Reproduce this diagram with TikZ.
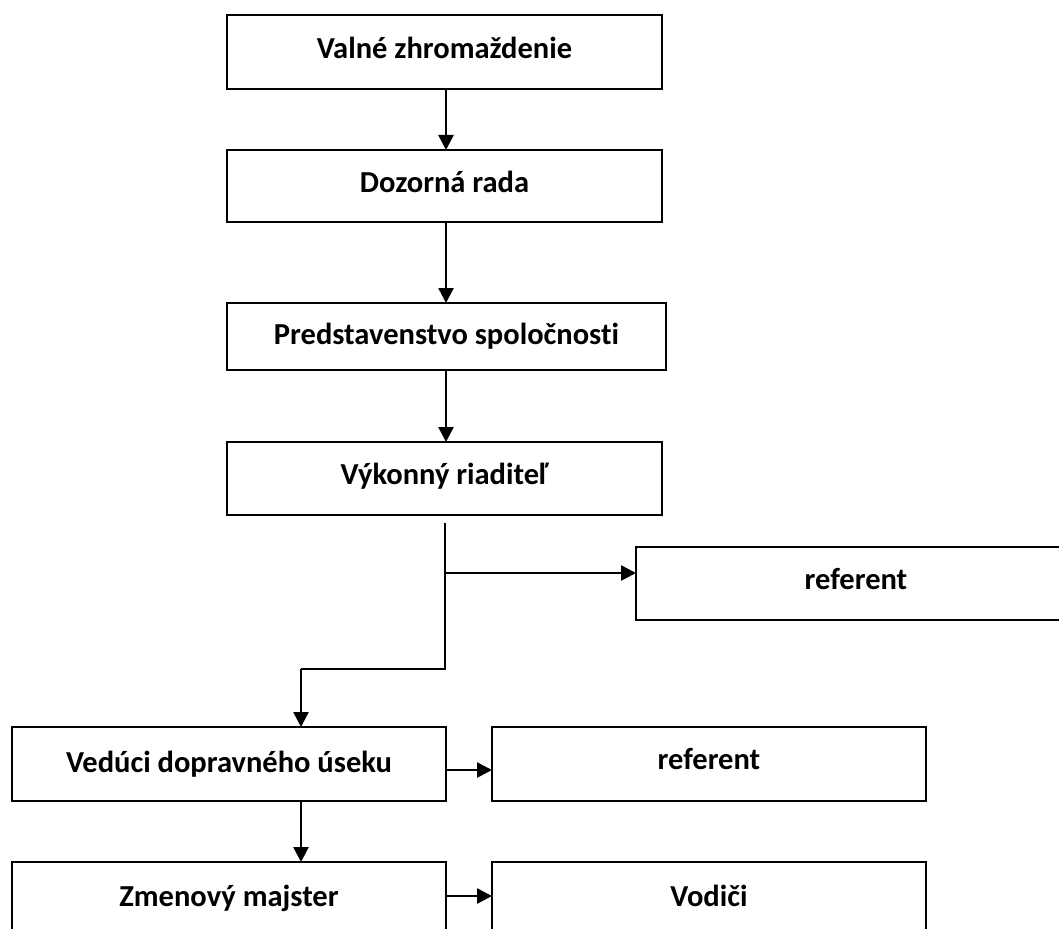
\documentclass[tikz,border=0pt]{standalone}
\usepackage{fontspec}
\setmainfont[Ligatures={NoCommon,NoContextual}]{Carlito}
\usetikzlibrary{arrows.meta,calc}
\begin{document}
\begin{tikzpicture}[x=1pt,y=-1pt,
  orgbox/.style={draw=black,line width=1.5pt,fill=white,inner sep=0pt,outer sep=0pt,
    minimum height=74pt,font=\fontsize{30.5}{36}\selectfont\bfseries},
  conn/.style={line width=2.6pt,-{Triangle[length=15pt,width=15pt]}},
  plain/.style={line width=2.6pt}]
\clip (0,0) rectangle (1059,928);
\fill[white] (0,0) rectangle (1059,928);
\node[orgbox,minimum width=435pt] (b1) at (444.5,52) {\raisebox{8pt}{Valné zhromaždenie}};
\node[orgbox,minimum width=435pt,minimum height=72pt] (b2) at (444.5,186) {\raisebox{9pt}{Dozorná rada}};
\node[orgbox,minimum width=439pt,minimum height=67pt] (b3) at (446.5,336.5) {\raisebox{4pt}{Predstavenstvo spoločnosti}};
\node[orgbox,minimum width=435pt,minimum height=73pt] (b4) at (444.5,478.5) {\raisebox{10pt}{Výkonný riaditeľ}};
\node[orgbox,minimum width=440pt,minimum height=73pt] (r1) at (856,583.5) {\raisebox{10pt}{referent}};
\node[orgbox,minimum width=434pt] (v) at (229,764) {\raisebox{4pt}{Vedúci dopravného úseku}};
\node[orgbox,minimum width=434pt] (r2) at (709,764) {\raisebox{10pt}{referent}};
\node[orgbox,minimum width=434pt] (z) at (229,899) {\raisebox{7pt}{Zmenový majster}};
\node[orgbox,minimum width=434pt] (vod) at (709,899) {\raisebox{7pt}{Vodiči}};
\draw[conn] (446,89) -- (446,150);
\draw[conn] (446,222) -- (446,303);
\draw[conn] (446,370) -- (446,442);
\coordinate (s) at (445,523);
\coordinate (br) at (445,573);
\coordinate (c1) at (445,669);
\coordinate (c2) at (301,669);
\draw[plain] (s) -- (c1) -- (c2);
\draw[conn] (c2) -- (c2 |- v.north);
\draw[conn] (br) -- (br -| r1.west);
\draw[conn] (301,801) -- (301,862);
\draw[conn] (446,770) -- (r2.west |- 0,770);
\draw[conn] (446,896) -- (vod.west |- 0,896);
\end{tikzpicture}
\end{document}
